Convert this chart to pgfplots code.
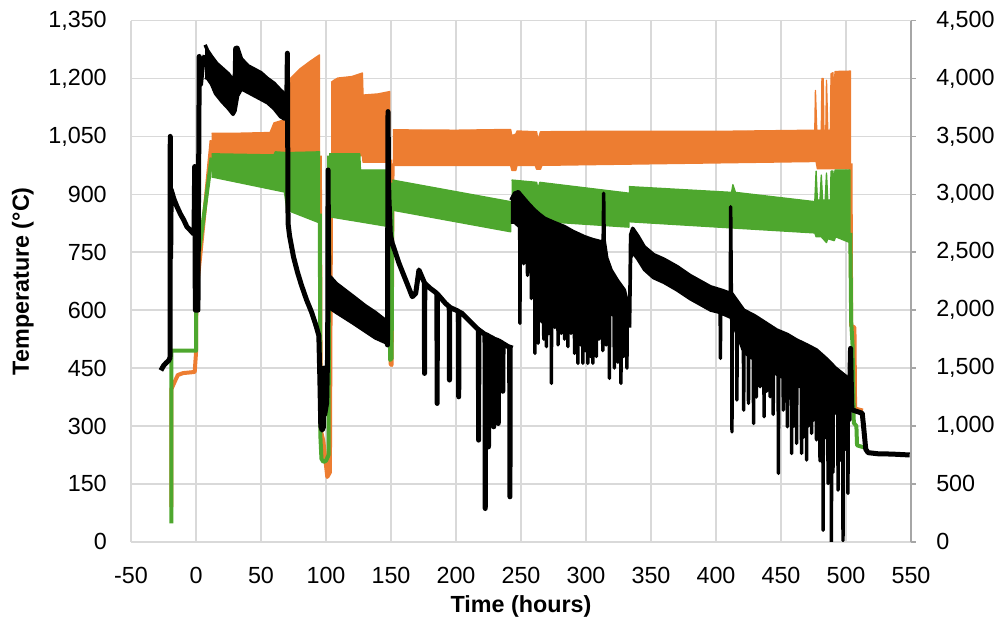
\documentclass[border=0pt]{standalone}
\usepackage{pgfplots}
\pgfplotsset{compat=1.18}
\usepackage{fontspec}
\setmainfont{Liberation Sans}
\definecolor{orangeC}{HTML}{ED7D31}
\definecolor{greenC}{HTML}{4EA72E}
\definecolor{gridC}{HTML}{D9D9D9}
\definecolor{axisC}{HTML}{A6A6A6}
\begin{document}
\begin{tikzpicture}
\pgfplotsset{
  base/.style={
    scale only axis, width=585pt, height=391pt,
    at={(0,0)}, anchor=south west,
    xmin=-50, xmax=550,
    ticklabel style={font=\fontsize{17.5}{20}\selectfont},
    /pgf/number format/assume math mode=true,
    /pgf/number format/1000 sep={,},
  },
  oband/.style={draw=orangeC, fill=orangeC, line width=1pt, line join=round},
  oline/.style={draw=orangeC, line width=3pt, line join=round},
  gband/.style={draw=greenC, fill=greenC, line width=1pt, line join=round},
  gline/.style={draw=greenC, line width=3pt, line join=round},
  kband/.style={draw=black, fill=black, line width=2.6pt, line join=round},
  kline/.style={draw=black, line width=3.75pt, line join=round},
}
% ---------------- left axis: temperatures ----------------
\begin{axis}[base,
  ymin=0, ymax=1350, ytick={0,150,...,1350},
  xtick={-50,0,...,550},
  grid=major, major grid style={draw=gridC, line width=1.2pt},
  axis line style={draw=none}, tick style={draw=none},
  xticklabel style={inner sep=0pt, yshift=-18.75pt},
  yticklabel style={inner sep=0pt, xshift=-18pt},
  xlabel={\textbf{Time (hours)}},
  ylabel={\textbf{Temperature (°C)}},
  label style={font=\fontsize{17.5}{20}\selectfont},
  xlabel style={at={(axis description cs:0.5,-0.1023)}, anchor=north, inner sep=0pt},
  ylabel style={at={(axis description cs:-0.1385,0.5)}, anchor=center, inner sep=0pt},
]
% orange series
\addplot[oline] coordinates {(-19,90) (-19,395) (-17,410) (-14,432) (-10,437) (-1,440) (0,489) (0.3,640) (12,1040)};
\addplot[oband] coordinates {(12,1058) (30,1058) (57,1060) (60,1085) (68,1093) (70,1120) (71.5,1196) (80,1225) (88,1245) (95,1261)
  (95,995) (12,995)};
\addplot[oline] coordinates {(95.3,1000) (96,290) (98,260) (101,168) (103,180) (104,1000)};
\addplot[oband] coordinates {(104,1190) (106,1195) (109,1201) (120,1205) (128,1214) (128.5,1157) (140,1160) (149,1166)
  (149,983) (128.5,983) (128,1000) (104,1000)};
\addplot[oline] coordinates {(149.5,990) (149.8,460) (150.5,458) (151.2,980)};
\addplot[oband] coordinates {(151.5,1067) (200,1066) (242,1068) (243,1052) (246,1056) (247,1064) (262,1062) (263,1040) (265,1062)
  (300,1063) (400,1063) (476,1066) (476.5,1169) (477.5,1066) (481,1066) (481.5,1200) (482.5,1200) (483,1066) (484.5,1066)
  (485,1195) (486,1066) (488,1066) (488.5,1212) (490,1215) (491,1066) (491.5,1218) (503.5,1219)
  (503.5,966) (478,966) (477,985) (266,975) (265,965) (262,965) (261,975) (247,975) (246,962) (243,962) (242,975) (151.5,975)};
\addplot[oline] coordinates {(503.5,980) (504,560) (506.5,555) (507,345) (513,340)};
% green series
\addplot[gline] coordinates {(-19,48) (-19,495) (0,495) (0.3,700) (12,995)};
\addplot[gband] coordinates {(12,1005) (60,1002) (61,1010) (70,1008) (95,1010)
  (95,826) (70,859) (68,906) (12,945)};
\addplot[gline] coordinates {(95.3,850) (95.6,280) (96.5,215) (98,207) (100,210) (102,225) (102.5,1000)};
\addplot[gband] coordinates {(102.5,1005) (126,1005) (126.5,963) (149,963)
  (149,816) (102.5,842)};
\addplot[gline] coordinates {(149,900) (149.3,471) (150.5,475) (151,930)};
\addplot[gband] coordinates {(151,937) (242,881)
  (242,803) (151,859)};
\addplot[gband] coordinates {(242.7,937) (262,931) (263,915) (264.5,931) (333,903)
  (333,815) (242.7,835)};
\addplot[gband] coordinates {(333,920) (412,905) (413,925) (415,905) (476,881) (477,960) (478,885) (480,885) (481,950) (482,885)
  (484,885) (485,955) (486,885) (488,885) (488.5,960) (490,960) (491,885) (491.5,963) (503,963)
  (503,775) (492,790) (491,780) (486,785) (485,775) (481,790) (477,790) (476,800) (333,829)};
\addplot[gline] coordinates {(503.3,800) (504,570) (505,512) (505.5,420) (506,308) (508,300) (508.5,250) (513.5,245)};
\end{axis}
% ---------------- right axis ----------------
\begin{axis}[base,
  ymin=0, ymax=4500, ytick={0,500,...,4500},
  axis x line=none, axis y line*=right,
  y axis line style={draw=axisC, line width=1.8pt, -},
  ytick style={draw=axisC, line width=1.2pt},
  tick align=outside, major tick length=3.75pt,
  yticklabel style={inner sep=0pt, xshift=15pt},
]
\addplot[kline] coordinates {(-27,1480) (-25,1520) (-23,1545) (-21,1565) (-20,1590) (-19.8,3500) (-19.5,2450) (-19.1,3040) (-17,2960)
  (-14.6,2893) (-12,2830) (-9.5,2780) (-7,2720) (-4.4,2690) (-2,2660) (-1.5,2700) (-1,3240) (-0.5,2000) (1.5,2000)
  (2.5,4190) (3.5,3950) (5,4120) (7,4200)};
\addplot[kband] coordinates {(7,4290) (9,4240) (12,4190) (16,4130) (20,4090) (25,4040) (28.3,3990) (29,3700) (30,4264) (32,4270)
  (35,4170) (40,4110) (45,4080) (50,4050) (55,4000) (60,3960) (65,3900) (68,3870)
  (68,3650) (65,3670) (60,3740) (55,3790) (50,3820) (45,3850) (40,3880) (35,3910) (32,3850) (30,3720) (28.5,3690)
  (25,3740) (20,3800) (15,3870) (12,3950) (9,4000) (7,4010)};
\addplot[kline] coordinates {(68,3760) (69.8,3760) (70.3,4218) (70.8,2750) (72,2640) (75,2460) (78,2330) (81,2220) (85,2090)
  (89,1980) (92.5,1860) (94.5,1780) (95.3,1400) (96,1000) (97,965) (98,990) (98.4,1500) (99,1100) (100.5,1200)
  (101.3,1650) (101.6,3210) (102,2300)};
\addplot[kband] coordinates {(102,2300) (104,2280) (108,2230) (115,2170) (122,2110) (130,2040) (138,1980) (146,1910)
  (146,1720) (138,1760) (130,1820) (122,1880) (115,1930) (108,1980) (104,2010) (102,2050)};
\addplot[kline] coordinates {(146,1800) (147.3,1700) (147.7,3714) (148.3,3000) (149.5,2650) (151,2577) (156.2,2404) (161.3,2260)
  (166.4,2116) (169,2145) (171.5,2347) (175.6,2240) (175.8,1454) (176,2232) (180,2190) (185.3,2145) (185.5,1195) (185.7,2140)
  (191.9,2059) (194.8,2030) (195,1397) (195.2,2025) (201.9,1990) (202.1,1252) (202.3,1985) (204.6,1973) (211,1900)
  (217.2,1832) (217.4,878) (217.6,1829) (220,1810) (222.3,1790) (222.5,288) (222.7,1790) (224.8,1780) (225,820) (225.2,1775)
  (228.8,1755) (229,993) (229.2,1750) (232.3,1738) (232.5,1022) (232.7,1736) (235.8,1715) (236,1300) (236.2,1712)
  (240.3,1684) (241.3,1680) (241.5,389) (241.7,1680) (242.3,1700)};
\addplot[kband] coordinates {(242.3,2950) (245,3010) (248,3023) (252,2970) (255.6,2923) (260,2870) (264,2830) (268.3,2793)
  (275,2760) (283.6,2721) (290,2680) (298.9,2634) (305,2610) (311.6,2591) (313.2,2600) (313.6,3009) (314,2600) (316,2450)
  (319.3,2347) (324,2260) (329.5,2174) (333.3,2001)
  (333.3,1880) (331.7,1880) (331.5,1500) (331.3,1880) (329.2,1880) (329,1600) (328.8,1880) (327.1,1880) (326.9,1368) (326.7,1880)
  (324.7,1950) (324.5,1550) (324.3,1950) (322,1950) (321.8,1500) (321.6,1950) (318.2,2000) (318,1411) (317.8,2000)
  (315.7,2000) (315.5,1700) (315.3,2000) (313.1,2080) (312.9,1650) (312.7,2080) (310.2,2070) (310,1750) (309.8,2070)
  (308.2,2060) (308,1600) (307.8,2060) (305.5,2060) (305.3,1541) (305.1,2060) (303.7,2060) (303.5,1600) (303.3,2060)
  (301.6,2060) (301.4,1541) (301.2,2060) (299.7,2080) (299.5,1650) (299.3,2080) (297.8,2080) (297.6,1541) (297.4,2080)
  (296.2,2080) (296,1700) (295.8,2080) (294,2080) (293.8,1541) (293.6,2080) (291.4,2080) (291.2,1627) (291,2080)
  (288.7,2140) (288.5,1800) (288.3,2140) (286.3,2140) (286.1,1685) (285.9,2140) (283.7,2140) (283.5,1750) (283.3,2140)
  (281.2,2140) (281,1800) (280.8,2140) (278.7,2200) (278.5,1700) (278.3,2200) (276.2,2200) (276,1850) (275.8,2200)
  (273.6,2200) (273.4,1368) (273.2,2200) (271.7,2200) (271.5,1800) (271.3,2200) (269.8,2280) (269.6,1685) (269.4,2280)
  (267.7,2280) (267.5,1750) (267.3,2280) (266,2280) (265.8,1900) (265.6,2300) (263.4,2380) (263.2,1714) (263,2380)
  (260.9,2380) (260.7,1627) (260.5,2400) (258.2,2500) (258,2100) (257.8,2500) (255.2,2550) (255,2300) (254.8,2600)
  (252.2,2620) (252,2400) (251.8,2640) (249.4,2720) (249.2,1886) (249,2720) (245,2760) (242.3,2760)};
\addplot[kband] coordinates {(333.5,1900) (334.3,2650) (335.9,2707) (340,2640) (344.8,2548) (352,2480) (360,2440) (370.3,2375)
  (380,2300) (395.7,2202) (405,2170) (411,2145) (411.3,2893) (411.8,2150) (421.3,2001) (430,1950) (446.7,1829) (455,1790)
  (462,1743) (470,1700) (477.3,1657) (485,1580) (492,1500) (500.3,1425) (503,1410)
  (503,1050) (501.7,1050) (501.5,418) (501.3,1050) (499.7,1055) (499.5,800) (499.3,1055) (497.9,1065) (497.7,10) (497.5,1065)
  (495.2,1090) (495,700) (494.8,1090) (494.1,1100) (493.9,447) (493.7,1100) (490.2,1140) (490,600) (489.8,1140)
  (489,1150) (488.8,0) (488.6,1150) (486.4,1180) (486.2,504) (486,1180) (484.2,1210) (484,900) (483.8,1210)
  (482.6,1225) (482.4,101) (482.2,1225) (480.2,1250) (480,700) (479.8,1250) (477.5,1280) (477.3,880) (477.1,1280)
  (475.2,1290) (475,1050) (474.8,1290) (473.7,1300) (473.5,936) (473.3,1300) (471.2,1310) (471,1000) (470.8,1310)
  (469.9,1320) (469.7,706) (469.5,1320) (467.2,1330) (467,900) (466.8,1330) (466,1335) (465.8,763) (465.6,1335)
  (462.2,1360) (462,850) (461.8,1360) (460.2,1370) (460,1000) (459.8,1370) (458.4,1380) (458.2,763) (458,1380)
  (455.1,1400) (454.9,993) (454.7,1400) (452,1420) (451.8,1137) (451.6,1420) (448.2,1440) (448,591) (447.8,1440)
  (444.2,1470) (444,1100) (443.8,1470) (441.8,1485) (441.6,1252) (441.4,1485) (439.2,1505) (439,1300) (438.8,1505)
  (437.2,1515) (437,1080) (436.8,1515) (434.2,1540) (434,1339) (433.8,1540) (431.2,1565) (431,1250) (430.8,1565)
  (429.1,1580) (428.9,1022) (428.7,1580) (425.2,1610) (425,1195) (424.8,1610) (421.5,1650) (421.3,1137) (421.1,1650)
  (416.3,1800) (416.1,1224) (415.9,1800) (412.5,1930) (412.3,950) (412.1,1935) (405,1970) (403.6,1975) (403.4,1584)
  (403.2,1980) (396,2000) (380,2100) (370,2175) (360,2240) (352,2280) (345,2350) (340,2440) (336,2500) (334.3,2450) (333.5,1850)};
\addplot[kline] coordinates {(503,1400) (503.5,1670) (504,1400) (504.5,1140) (512.5,1110) (513.5,1000) (515.2,800) (517,770)
  (525,760) (535,758) (549,750)};
\end{axis}
\pgfresetboundingbox
\path (-98.25pt,-63.2pt) rectangle (652.5pt,406.4pt);
\end{tikzpicture}
\end{document}
